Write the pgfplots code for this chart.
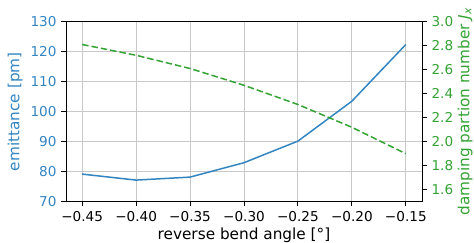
\documentclass[border=0pt]{standalone}
\usepackage{pgfplots}
\pgfplotsset{compat=1.18}
\usepackage{fontspec}
\setmainfont{DejaVu Sans}
\definecolor{mblue}{HTML}{3385C1}
\definecolor{mgreen}{HTML}{33A333}
\definecolor{gridgray}{HTML}{C8C8C8}
\begin{document}
\fontsize{13.6}{16}\selectfont
\begin{tikzpicture}
\begin{axis}[
  at={(0,0)}, anchor=south west,
  scale only axis,
  width=356pt, height=180pt,
  xmin=-0.465, xmax=-0.135,
  ymin=70, ymax=130,
  xtick={-0.45,-0.40,-0.35,-0.30,-0.25,-0.20,-0.15},
  xticklabels={−0.45,−0.40,−0.35,−0.30,−0.25,−0.20,−0.15},
  ytick={70,80,90,100,110,120,130},
  /pgf/number format/assume math mode=true,
  tick align=outside,
  major tick length=4.8pt,
  xtick pos=bottom, ytick pos=left,
  grid=major,
  major grid style={gridgray, line width=0.9pt},
  axis line style={black, line width=0.9pt},
  tick style={black, line width=0.9pt},
  yticklabel style={text=mblue},
  ylabel={emittance [pm]},
  ylabel style={text=mblue, at={(axis description cs:-0.143,0.5)}, anchor=center},
  xlabel={reverse bend angle [°]},
  xlabel style={at={(axis description cs:0.5,-0.187)}, anchor=center},
  every axis label/.append style={font=\fontsize{15.3}{18}\selectfont},
  ticklabel style={font=\fontsize{13.6}{16}\selectfont},
]
\addplot[mblue, line width=1.5pt, no markers] coordinates {
  (-0.45,79.2) (-0.40,77.2) (-0.35,78.2) (-0.30,83.0) (-0.25,90.2) (-0.20,103.5) (-0.15,122.4)
};
\end{axis}
\begin{axis}[
  at={(0,0)}, anchor=south west,
  scale only axis,
  width=356pt, height=180pt,
  xmin=-0.465, xmax=-0.135,
  ymin=1.5, ymax=3.0,
  axis x line=none,
  axis y line*=right,
  ytick={1.6,1.8,2.0,2.2,2.4,2.6,2.8,3.0},
  yticklabel style={text=mgreen, /pgf/number format/.cd, fixed, fixed zerofill, precision=1},
  /pgf/number format/assume math mode=true,
  tick align=outside,
  major tick length=4.8pt,
  axis line style={black, line width=0.9pt},
  tick style={black, line width=0.9pt},
  ylabel={damping partion number \textit{J}\textsubscript{\textit{x}}},
  ylabel style={text=mgreen, at={(axis description cs:1.121,0.5)}, anchor=center},
  every axis label/.append style={font=\fontsize{15.3}{18}\selectfont},
  ticklabel style={font=\fontsize{13.6}{16}\selectfont},
]
\addplot[mgreen, line width=1.5pt, dash pattern=on 6.5pt off 3pt, no markers] coordinates {
  (-0.45,2.81) (-0.40,2.72) (-0.35,2.61) (-0.30,2.47) (-0.25,2.31) (-0.20,2.12) (-0.15,1.90)
};
\end{axis}
\pgfresetboundingbox
\path (-66pt,-41.3pt) rectangle (408pt,201.7pt);
\end{tikzpicture}
\end{document}
